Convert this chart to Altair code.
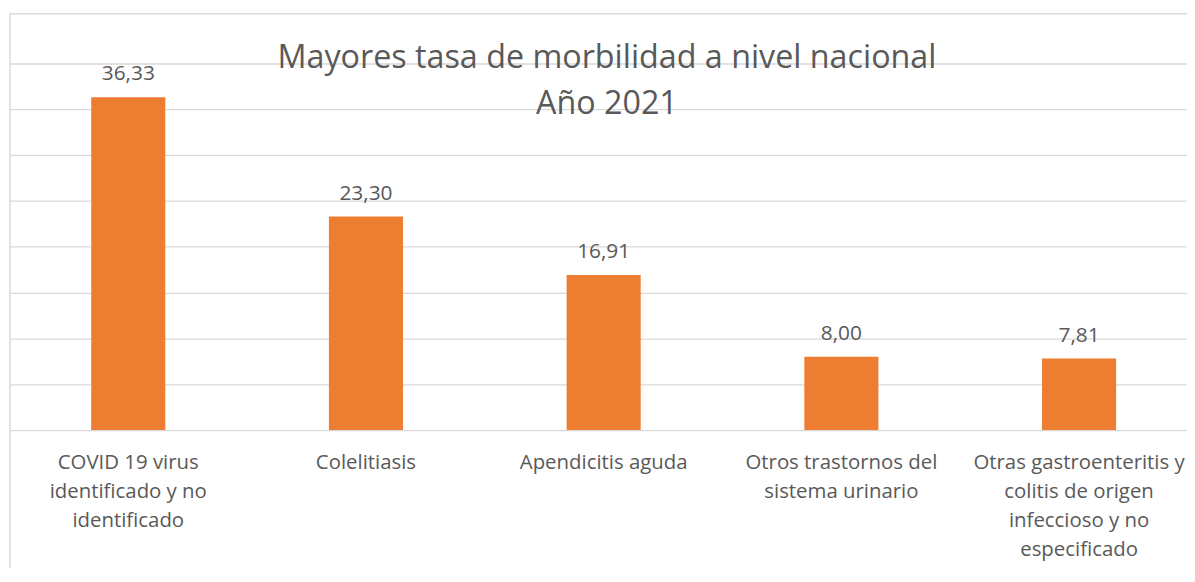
import altair as alt
import pandas as pd

categories = [
    "COVID 19 virus\nidentificado y no\nidentificado",
    "Colelitiasis",
    "Apendicitis aguda",
    "Otros trastornos del\nsistema urinario",
    "Otras gastroenteritis y\ncolitis de origen\ninfeccioso y no\nespecificado",
]
values = [36.33, 23.30, 16.91, 8.00, 7.81]
title_lines = ["Mayores tasa de morbilidad a nivel nacional", "Año 2021"]
grid_values = [0, 5, 10, 15, 20, 25, 30, 35, 40]

df = pd.DataFrame({"cat": categories, "val": values})

FONT = "Open Sans"
TXT = "#595959"
GRID = "#D9D9D9"

xscale = alt.Scale(paddingInner=0.6884, paddingOuter=0.32, align=0.534)
x = alt.X(
    "cat:N",
    sort=categories,
    scale=xscale,
    axis=alt.Axis(
        title=None,
        domain=False,
        ticks=False,
        grid=False,
        labelAngle=0,
        labelExpr="split(datum.label, '\\n')",
        labelFont=FONT,
        labelFontSize=20.5,
        labelColor=TXT,
        labelPadding=23,
        labelLineHeight=29,
        labelLimit=400,
        labelOverlap=False,
    ),
)
y = alt.Y(
    "val:Q",
    scale=alt.Scale(domain=[0, 45.42], nice=False, zero=True),
    axis=alt.Axis(
        title=None,
        values=grid_values,
        labels=False,
        ticks=False,
        domain=False,
        grid=True,
        gridColor=GRID,
        gridWidth=1.3,
    ),
)

base = alt.Chart(df)
bars = base.mark_bar(color="#ED7D31").encode(x=x, y=y)
labels = (
    base.transform_calculate(lbl="replace(format(datum.val, '.2f'), '.', ',')")
    .mark_text(font=FONT, fontSize=21, color=TXT, baseline="alphabetic", dy=-17)
    .encode(x=alt.X("cat:N", sort=categories), y="val:Q", text="lbl:N")
)
title = (
    alt.Chart(pd.DataFrame({"t": ["\n".join(title_lines)]}))
    .mark_text(font=FONT, fontSize=32.5, color=TXT, baseline="alphabetic",
               align="center", lineBreak="\n", lineHeight=46)
    .encode(x=alt.value(601), y=alt.value(55), text="t:N")
)
frame_top = (
    alt.Chart(pd.DataFrame({"a": [0]}))
    .mark_rule(color=GRID, strokeWidth=1.5)
    .encode(x=alt.value(0), x2=alt.value(1185), y=alt.value(0))
)
frame_left = (
    alt.Chart(pd.DataFrame({"a": [0]}))
    .mark_rule(color=GRID, strokeWidth=1.5)
    .encode(x=alt.value(0), y=alt.value(0), y2=alt.value(560))
)

chart = (
    alt.layer(frame_top, frame_left, bars, labels, title)
    .properties(
        width=1185,
        height=419,
        padding={"left": 2, "top": 4, "right": 0, "bottom": 137},
        autosize=alt.AutoSizeParams(type="none"),
        background="white",
    )
    .configure_view(stroke=None)
)

chart.save("out.html", embed_options={"renderer": "svg", "actions": False})
